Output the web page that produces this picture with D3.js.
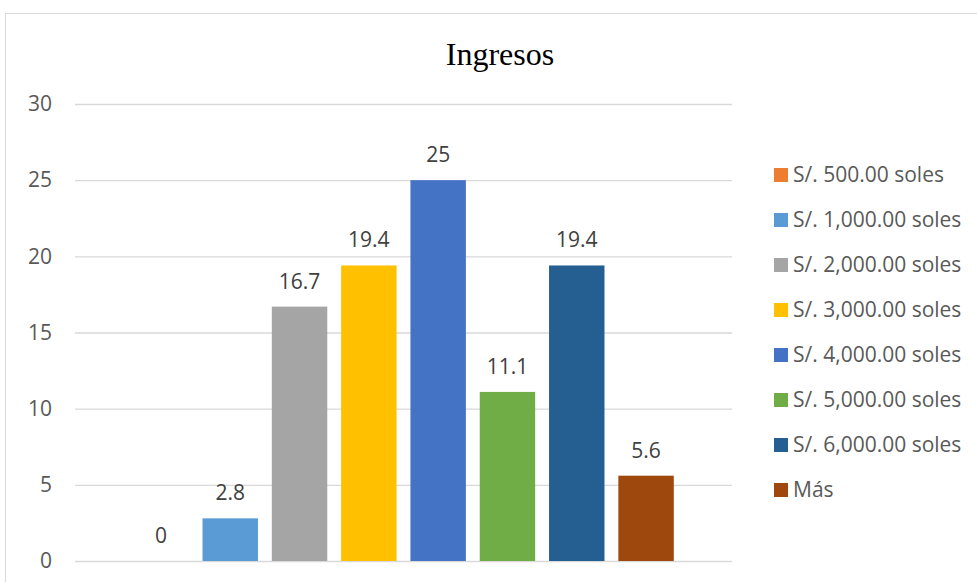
<!DOCTYPE html>
<html>
<head>
<meta charset="utf-8">
<script src="https://cdn.jsdelivr.net/npm/d3@7"></script>
<style>
  html, body { margin: 0; padding: 0; background: #fff; }
  svg { display: block; }
</style>
</head>
<body>
<svg id="chart" width="977" height="582"></svg>
<script>
// Income brackets (series) and their percentages
const categories = [
  "S/. 500.00 soles",
  "S/. 1,000.00 soles",
  "S/. 2,000.00 soles",
  "S/. 3,000.00 soles",
  "S/. 4,000.00 soles",
  "S/. 5,000.00 soles",
  "S/. 6,000.00 soles",
  "Más"
];
const values = [0, 2.8, 16.7, 19.4, 25, 11.1, 19.4, 5.6];
const colors = ["#ED7D31", "#5B9BD5", "#A5A5A5", "#FFC000", "#4472C4", "#70AD47", "#255E91", "#9E480E"];
const yTicks = [0, 5, 10, 15, 20, 25, 30];
const title = "Ingresos";

const svg = d3.select("#chart");
const W = 977, H = 582;
const plot = { left: 75, right: 732, top: 104, bottom: 561 };
const uiFont = "'Open Sans', 'Noto Sans', sans-serif";
const uiSize = "21px";

// Chart frame
svg.append("rect")
  .attr("x", 5.5).attr("y", 13.5)
  .attr("width", W).attr("height", H)
  .attr("fill", "#fff")
  .attr("stroke", "#d9d9d9").attr("stroke-width", 1);

const x = d3.scaleBand()
  .domain(categories)
  .range([plot.left, plot.right])
  .paddingInner(0.2)
  .paddingOuter(0.84);

const y = d3.scaleLinear()
  .domain([0, 30])
  .range([plot.bottom, plot.top]);

// Horizontal gridlines + tick labels via a left axis
const yAxis = d3.axisLeft(y)
  .tickValues(yTicks)
  .tickSize(-(plot.right - plot.left))
  .tickPadding(23)
  .tickFormat(d3.format("d"));

const gy = svg.append("g")
  .attr("transform", `translate(${plot.left},0)`)
  .call(yAxis);
gy.select(".domain").remove();
gy.selectAll(".tick line").attr("stroke", "#d9d9d9").attr("stroke-width", 1.3);
gy.selectAll(".tick text")
  .attr("fill", "#595959")
  .style("font-family", uiFont)
  .style("font-size", uiSize);

// Bars
svg.append("g").selectAll("rect")
  .data(values)
  .join("rect")
  .attr("x", (d, i) => x(categories[i]))
  .attr("y", d => y(d))
  .attr("width", x.bandwidth())
  .attr("height", d => y(0) - y(d))
  .attr("fill", (d, i) => colors[i]);

// Value labels above bars
svg.append("g").selectAll("text")
  .data(values)
  .join("text")
  .attr("x", (d, i) => x(categories[i]) + x.bandwidth() / 2)
  .attr("y", d => y(d) - 18)
  .attr("text-anchor", "middle")
  .attr("fill", "#404040")
  .style("font-family", uiFont)
  .style("font-size", uiSize)
  .text(d => d3.format("")(d));

// Title
svg.append("text")
  .attr("x", 500)
  .attr("y", 65)
  .attr("text-anchor", "middle")
  .attr("fill", "#000")
  .style("font-family", "'Liberation Serif', 'Times New Roman', serif")
  .style("font-size", "32px")
  .text(title);

// Legend
const legend = svg.append("g").selectAll("g")
  .data(categories)
  .join("g")
  .attr("transform", (d, i) => `translate(774, ${175 + i * 45})`);
legend.append("rect")
  .attr("x", 0).attr("y", -7)
  .attr("width", 14).attr("height", 14)
  .attr("fill", (d, i) => colors[i]);
legend.append("text")
  .attr("x", 19).attr("y", 0)
  .attr("dy", "0.35em")
  .attr("fill", "#595959")
  .style("font-family", uiFont)
  .style("font-size", uiSize)
  .text(d => d);
</script>
</body>
</html>
